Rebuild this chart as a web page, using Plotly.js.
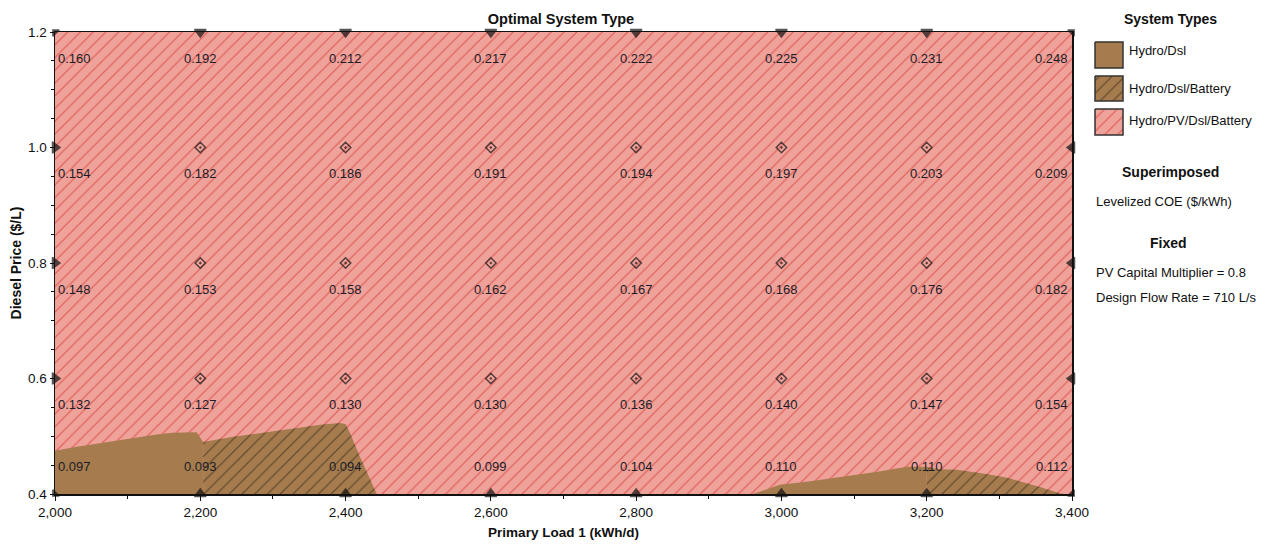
<!DOCTYPE html>
<html>
<head>
<meta charset="utf-8">
<script src="https://cdn.plot.ly/plotly-3.0.1.min.js"></script>
<style>html,body{margin:0;padding:0;background:#fff;}#chart{width:1269px;height:544px;}</style>
</head>
<body>
<div id="chart"></div>
<script>
// ---- data ----
const loads = [2000, 2200, 2400, 2600, 2800, 3000, 3200, 3400];
const prices = [0.4, 0.6, 0.8, 1.0, 1.2];
const coe_04 = [0.097, 0.093, 0.094, 0.099, 0.104, 0.110, 0.110, 0.112];
const coe_06 = [0.132, 0.127, 0.130, 0.130, 0.136, 0.140, 0.147, 0.154];
const coe_08 = [0.148, 0.153, 0.158, 0.162, 0.167, 0.168, 0.176, 0.182];
const coe_10 = [0.154, 0.182, 0.186, 0.191, 0.194, 0.197, 0.203, 0.209];
const coe_12 = [0.160, 0.192, 0.212, 0.217, 0.222, 0.225, 0.231, 0.248];

// region boundaries (Primary load, Diesel price)
const pvX = [2000, 3400, 3400, 2000, 2000];
const pvY = [0.4, 0.4, 1.2, 1.2, 0.4];
const dslLeftX = [2000, 2000, 2030, 2062, 2090, 2117, 2140, 2162, 2195, 2204, 2204, 2000];
const dslLeftY = [0.4, 0.475, 0.482, 0.488, 0.494, 0.499, 0.503, 0.506, 0.507, 0.490, 0.4, 0.4];
const batLeftX = [2204, 2204, 2245, 2314, 2365, 2392, 2400, 2406, 2420, 2443, 2204];
const batLeftY = [0.4, 0.490, 0.499, 0.511, 0.520, 0.523, 0.521, 0.506, 0.464, 0.4, 0.4];
const dslRightX = [2961, 2975, 2998, 3040, 3081, 3130, 3173, 3200, 3200, 2961];
const dslRightY = [0.4, 0.406, 0.416, 0.422, 0.429, 0.438, 0.447, 0.447, 0.4, 0.4];
const batRightX = [3200, 3200, 3218, 3242, 3280, 3311, 3356, 3384, 3392, 3200];
const batRightY = [0.4, 0.447, 0.443, 0.442, 0.435, 0.428, 0.412, 0.401, 0.4, 0.4];

const systemTypes = ['Hydro/Dsl', 'Hydro/Dsl/Battery', 'Hydro/PV/Dsl/Battery'];

// ---- styles ----
const FONT = 'Liberation Sans, Arial, sans-serif';
const BROWN = '#A67C4E';
const PINK = '#EFA29A';
const patPink = {shape: '/', bgcolor: PINK, fgcolor: '#DE5B55', size: 9, solidity: 0.13};
const patBrown = {shape: '/', bgcolor: BROWN, fgcolor: '#5C4428', size: 9, solidity: 0.13};

function region(x, y, color, pattern) {
  const t = {x: x, y: y, type: 'scatter', mode: 'lines', fill: 'toself', fillcolor: color,
    line: {width: 0, color: color}, hoverinfo: 'skip', showlegend: false, xaxis: 'x', yaxis: 'y'};
  if (pattern) t.fillpattern = pattern;
  return t;
}

const traces = [
  region(pvX, pvY, PINK, patPink),
  region(dslLeftX, dslLeftY, BROWN, null),
  region(batLeftX, batLeftY, BROWN, patBrown),
  region(dslRightX, dslRightY, BROWN, null),
  region(batRightX, batRightY, BROWN, patBrown)
];

// grid markers
const mx = [], my = [], ms = [], msz = [];
const nx = loads.length, ny = prices.length;
loads.forEach((xv, i) => {
  prices.forEach((yv, j) => {
    let s = 'diamond-open-dot', z = 8;
    const L = i === 0, R = i === nx - 1, B = j === 0, T = j === ny - 1;
    if (L && T) { s = 'triangle-nw'; z = 7; }
    else if (R && T) { s = 'triangle-ne'; z = 7; }
    else if (L && B) { s = 'triangle-sw'; z = 7; }
    else if (R && B) { s = 'triangle-se'; z = 7; }
    else if (T) { s = 'triangle-down'; z = 10; }
    else if (B) { s = 'triangle-up'; z = 10; }
    else if (L) { s = 'triangle-right'; z = 10; }
    else if (R) { s = 'triangle-left'; z = 10; }
    mx.push(xv); my.push(yv); ms.push(s); msz.push(z);
  });
});
traces.push({x: mx, y: my, type: 'scatter', mode: 'markers', cliponaxis: false,
  marker: {symbol: ms, size: msz, color: '#111', line: {color: '#111', width: 1.5}},
  hoverinfo: 'skip', showlegend: false, xaxis: 'x', yaxis: 'y'});

// legend swatches on a helper axis (pixel-like units)
const sw = [[42, 68, BROWN, null], [76, 101, BROWN, patBrown], [109, 135, PINK, patPink]];
sw.forEach(s => {
  const t = {x: [1095, 1123, 1123, 1095, 1095], y: [s[0], s[0], s[1], s[1], s[0]], type: 'scatter',
    mode: 'lines', fill: 'toself', fillcolor: s[2], line: {color: '#333', width: 1.5},
    hoverinfo: 'skip', showlegend: false, xaxis: 'x2', yaxis: 'y2'};
  if (s[3]) t.fillpattern = s[3];
  traces.push(t);
});

// annotations
const ann = [];
const rows = [coe_04, coe_06, coe_08, coe_10, coe_12];
rows.forEach((row, j) => {
  row.forEach((v, i) => {
    let xa = 'center', xs = 0;
    if (i === 0) { xa = 'left'; xs = 1; }
    if (i === nx - 1) { xa = 'right'; xs = -2; }
    ann.push({x: loads[i], y: prices[j], xref: 'x', yref: 'y', text: v.toFixed(3), showarrow: false,
      xanchor: xa, yanchor: 'middle', xshift: xs, yshift: j === 0 ? 28 : -26,
      font: {family: FONT, size: 13, color: '#1c1c28'}});
  });
});

const W = 1214, pl = 55, pb = 494, ph = 462;
function px(x) { return (x - pl) / W; }
function py(y) { return (pb - y) / ph; }
function txt(x, y, t, xa, bold, size) {
  ann.push({x: px(x), y: py(y), xref: 'paper', yref: 'paper', text: bold ? '<b>' + t + '</b>' : t,
    showarrow: false, xanchor: xa, yanchor: 'middle',
    font: {family: FONT, size: size, color: '#111'}});
}
txt(1170, 19, 'System Types', 'center', true, 14);
txt(1127, 50, systemTypes[0], 'left', false, 13);
txt(1127, 88, systemTypes[1], 'left', false, 13);
txt(1127, 121, systemTypes[2], 'left', false, 13);
txt(1170, 172, 'Superimposed', 'center', true, 14);
txt(1094, 201, 'Levelized COE ($/kWh)', 'left', false, 13);
txt(1168, 243, 'Fixed', 'center', true, 14);
txt(1094, 272, 'PV Capital Multiplier = 0.8', 'left', false, 13);
txt(1094, 298, 'Design Flow Rate = 710 L/s', 'left', false, 13);

const layout = {
  width: 1269, height: 544,
  margin: {l: 55, r: 0, t: 32, b: 50, pad: 0},
  paper_bgcolor: '#fff', plot_bgcolor: '#fff',
  showlegend: false,
  font: {family: FONT, size: 13, color: '#111'},
  title: {text: '<b>Optimal System Type</b>', xref: 'paper', x: px(561), xanchor: 'center',
    yref: 'container', y: 1 - 19 / 544, yanchor: 'middle',
    font: {family: FONT, size: 14.5, color: '#111'}},
  xaxis: {domain: [0, px(1072)], range: [2000, 3400], tickvals: loads, tickformat: ',d',
    ticks: 'outside', ticklen: 5, tickcolor: '#111', showgrid: false, zeroline: false,
    showline: true, linecolor: '#111', linewidth: 1.5, mirror: true,
    minor: {dtick: 100, ticks: 'outside', ticklen: 3, tickcolor: '#111', showgrid: false},
    tickfont: {family: FONT, size: 13.5, color: '#111'},
    title: {text: '<b>Primary Load 1 (kWh/d)</b>', standoff: 9, font: {family: FONT, size: 13.5, color: '#111'}},
    fixedrange: true},
  yaxis: {domain: [0, 1], range: [0.4, 1.2], tickvals: prices, tickformat: '.1f',
    ticks: 'outside', ticklen: 4, tickcolor: '#111', showgrid: false, zeroline: false,
    showline: true, linecolor: '#111', linewidth: 1.5, mirror: true,
    minor: {dtick: 0.05, ticks: 'outside', ticklen: 3, tickcolor: '#111', showgrid: false},
    tickfont: {family: FONT, size: 13.5, color: '#111'},
    title: {text: '<b>Diesel Price ($/L)</b>', standoff: 3, font: {family: FONT, size: 14, color: '#111'}},
    fixedrange: true},
  xaxis2: {domain: [px(1080), 1], range: [1080, 1269], visible: false, fixedrange: true, anchor: 'y2'},
  yaxis2: {domain: [0, 1], range: [494, 32], visible: false, fixedrange: true, anchor: 'x2'},
  annotations: ann
};

Plotly.newPlot('chart', traces, layout, {staticPlot: true, displayModeBar: false});
</script>
</body>
</html>
